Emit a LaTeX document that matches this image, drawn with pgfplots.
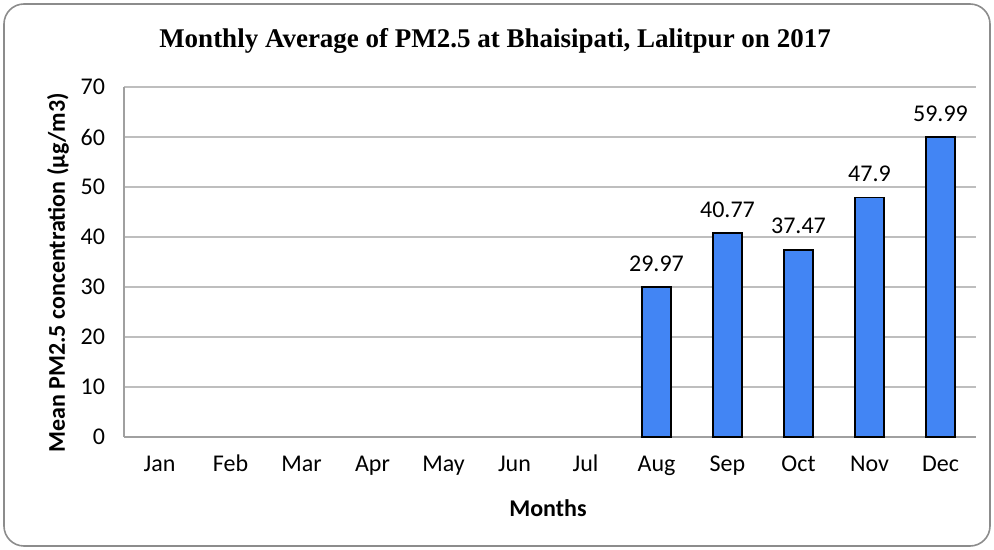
\documentclass[border=0pt]{standalone}
\usepackage{pgfplots}
\pgfplotsset{compat=1.18}
\usepackage{fontspec}
\setmainfont{Carlito}
\newfontfamily\titlefont{Liberation Serif}
\definecolor{barblue}{RGB}{66,133,244}
\definecolor{gridgray}{RGB}{190,190,190}
\definecolor{axgray}{RGB}{160,160,160}
\definecolor{framegray}{RGB}{140,140,140}
\begin{document}
\begin{tikzpicture}
\useasboundingbox (0,0) rectangle (497pt,275pt);
\draw[framegray, line width=0.8pt, rounded corners=10pt] (2pt,2pt) rectangle (495pt,273pt);
\begin{axis}[
  at={(62pt,56.5pt)}, anchor=south west,
  scale only axis, width=426pt, height=175pt,
  ymin=0, ymax=70, ytick={0,10,...,70},
  xmin=-0.5, xmax=11.5,
  xtick={0,...,11},
  xticklabels={Jan,Feb,Mar,Apr,May,Jun,Jul,Aug,Sep,Oct,Nov,Dec},
  major tick length=0pt,
  ymajorgrids, grid style={gridgray, line width=0.6pt},
  axis x line*=bottom, axis y line*=left,
  axis line style={axgray, line width=0.8pt, -},
  /pgf/number format/assume math mode=true,
  tick label style={font=\fontsize{12}{14}\selectfont, black},
  yticklabel style={xshift=-6pt},
  xticklabel style={text height=1.3ex, text depth=0.4ex, yshift=-7.5pt},
  ybar, bar width=14.5pt,
  nodes near coords={\pgfmathprintnumber[fixed,precision=2]{\pgfplotspointmeta}},
  nodes near coords style={font=\fontsize{12}{14}\selectfont, black, yshift=4pt},
  clip=false,
]
\addplot[fill=barblue, draw=black, line width=0.9pt] coordinates {
  (7,29.97) (8,40.77) (9,37.47) (10,47.9) (11,59.99)
};
\end{axis}
\node[font=\titlefont\bfseries\fontsize{13.5}{16}\selectfont] at (247.5pt,254.5pt) {Monthly Average of PM2.5 at Bhaisipati, Lalitpur on 2017};
\node[font=\bfseries\fontsize{12}{14}\selectfont, rotate=90] at (29pt,138.5pt) {Mean PM2.5 concentration (μg/m3)};
\node[font=\bfseries\fontsize{12}{14}\selectfont] at (274pt,21pt) {Months};
\end{tikzpicture}
\end{document}
